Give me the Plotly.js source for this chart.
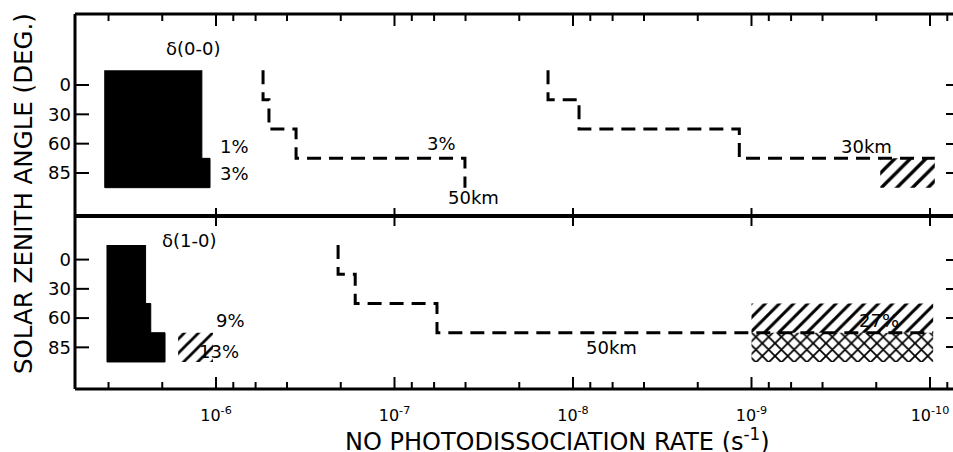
<!DOCTYPE html>
<html><head><meta charset="utf-8">
<script src="https://cdn.plot.ly/plotly-3.0.1.min.js"></script>
<style>html,body{margin:0;padding:0;background:#fff;overflow:hidden}</style>
</head><body><div id="chart" style="width:953px;height:452px"></div>
<script>
// ---- data ----
const zenithAngles = [0, 30, 60, 85];
const xTickVals = [1e-6, 1e-7, 1e-8, 1e-9, 1e-10];
const xTickText = ['10<sup>-6</sup>', '10<sup>-7</sup>', '10<sup>-8</sup>', '10<sup>-9</sup>', '10<sup>-10</sup>'];
const minorMultipliers = [2, 4, 6, 8];
const minorDecades = [1e-6, 1e-7, 1e-8, 1e-9, 1e-10, 1e-11];

// delta(0-0) band
const d00UpperLeft = [4.2e-6, 4.2e-6, 4.2e-6, 4.2e-6];
const d00UpperRight = [1.2e-6, 1.2e-6, 1.2e-6, 1.08e-6];
const d00Rate50km = [5.45e-7, 5.05e-7, 3.56e-7, 4.03e-8];
const d00Rate30km = [1.38e-8, 9.25e-9, 1.17e-9];
const d00Range30km85 = [1.9e-10, 9.4e-11];

// delta(1-0) band
const d10UpperLeft = [4.08e-6, 4.08e-6, 4.08e-6, 4.08e-6];
const d10UpperRight = [2.48e-6, 2.48e-6, 2.32e-6, 1.93e-6];
const d10Range85Upper = [1.63e-6, 1.04e-6];
const d10Rate50km = [2.07e-7, 1.66e-7, 5.78e-8];
const d10Range60Lower = [1.0e-9, 9.6e-11];
const d10Range85Lower = [1.0e-9, 9.6e-11];

// ---- helpers ----
function stepLine(vals, endVal) {
  const xs = [], ys = [];
  vals.forEach((v, i) => { xs.push(v, v); ys.push(i - 0.5, i + 0.5); });
  if (endVal !== undefined) { xs.push(endVal); ys.push(vals.length - 0.5); }
  return {xs, ys};
}
function bandPoly(left, right) {
  const xs = [], ys = [];
  right.forEach((v, i) => { xs.push(v, v); ys.push(i - 0.5, i + 0.5); });
  for (let i = left.length - 1; i >= 0; i--) { xs.push(left[i], left[i]); ys.push(i + 0.5, i - 0.5); }
  return {xs, ys};
}
function boxPoly(range, row) {
  return {xs: [range[0], range[1], range[1], range[0], range[0]],
          ys: [row - 0.5, row - 0.5, row + 0.5, row + 0.5, row - 0.5]};
}
const minorTicks = [];
minorDecades.forEach(d => minorMultipliers.forEach(m => minorTicks.push(m * d)));

const FONT = '"DejaVu Sans", "Liberation Sans", sans-serif';
const dashStyle = '14px,8px';
const traces = [];
function addFill(p, xa, ya, name) {
  traces.push({type: 'scatter', mode: 'lines', x: p.xs, y: p.ys, xaxis: xa, yaxis: ya,
    fill: 'toself', fillcolor: 'black', line: {color: 'black', width: 1}, name, hoverinfo: 'skip'});
}
function addHatch(p, xa, ya, shape, size, sol, name) {
  traces.push({type: 'scatter', mode: 'lines', x: p.xs, y: p.ys, xaxis: xa, yaxis: ya,
    fill: 'toself', fillcolor: 'rgba(0,0,0,0)', line: {color: 'rgba(0,0,0,0)', width: 0},
    fillpattern: {shape, size, solidity: sol, fgcolor: 'black', bgcolor: 'rgba(0,0,0,0)'}, name, hoverinfo: 'skip'});
}
function addStep(p, xa, ya, name) {
  traces.push({type: 'scatter', mode: 'lines', x: p.xs, y: p.ys, xaxis: xa, yaxis: ya,
    line: {color: 'black', width: 3, dash: dashStyle}, name});
}
function addCarrier(xa, ya) {
  traces.push({type: 'scatter', mode: 'lines', x: [], y: [], xaxis: xa, yaxis: ya,
    showlegend: false, hoverinfo: 'skip'});
}

// top panel: x2/y2 ; bottom panel: x/y
addFill(bandPoly(d00UpperLeft, d00UpperRight), 'x2', 'y2', 'δ(0-0) upper');
addStep(stepLine(d00Rate50km), 'x2', 'y2', 'δ(0-0) 50km');
addStep(stepLine(d00Rate30km, d00Range30km85[1]), 'x2', 'y2', 'δ(0-0) 30km');
addHatch(boxPoly(d00Range30km85, 3), 'x2', 'y2', '/', 11, 0.3, 'δ(0-0) 30km 85°');

addFill(bandPoly(d10UpperLeft, d10UpperRight), 'x', 'y', 'δ(1-0) upper');
addHatch(boxPoly(d10Range85Upper, 3), 'x', 'y', '/', 10, 0.28, 'δ(1-0) 85° range');
addHatch(boxPoly(d10Range60Lower, 2), 'x', 'y', '/', 10, 0.3, 'δ(1-0) 60° lower');
addHatch(boxPoly(d10Range85Lower, 3), 'x', 'y', 'x', 9, 0.35, 'δ(1-0) 85° lower');
addStep(stepLine(d10Rate50km, d10Range85Lower[1]), 'x', 'y', 'δ(1-0) 50km');

addCarrier('x', 'y5');
addCarrier('x2', 'y6');

const XR = [-5.2101, -10.1289];
const MID = 0.4613;
const PLOT_W = 878, PLOT_H = 375;
const YR1 = [4.424, -1.49];   // bottom panel
const YR2 = [4.466, -2.42];   // top panel
const yTickVals = zenithAngles.map((_, i) => i);
const yTickText = zenithAngles.map(String);
const baseX = {type: 'log', range: XR, autorange: false, showgrid: false, zeroline: false, showline: false,
  tickmode: 'array', tickvals: xTickVals, ticktext: xTickText, tickcolor: 'black', tickwidth: 2};
const baseY = {showgrid: false, zeroline: false, autorange: false, showline: false, tickmode: 'array',
  tickvals: yTickVals, ticktext: yTickText, tickcolor: 'black', tickwidth: 2};
function yTickAxis(over, range, pos, side, len) {
  return Object.assign({}, baseY, {overlaying: over, anchor: 'free', position: pos, side: side, range: range,
    ticks: 'outside', ticklen: len, showticklabels: false});
}

// frame lines and tick marks (layout decorations)
const frame = {type: 'line', xref: 'paper', yref: 'paper', layer: 'above', line: {color: 'black', width: 3}};
const tickLine = {type: 'line', layer: 'above', line: {color: 'black', width: 2}};
const xFrac = v => (Math.log10(v) - XR[0]) / (XR[1] - XR[0]);
const shapes = [
  Object.assign({}, frame, {x0: 0, x1: 1, y0: 1, y1: 1}),
  Object.assign({}, frame, {x0: 0, x1: 1, y0: MID, y1: MID, line: {color: 'black', width: 4}}),
  Object.assign({}, frame, {x0: 0, x1: 1, y0: 0, y1: 0}),
  Object.assign({}, frame, {x0: 0, x1: 0, y0: 0, y1: 1})
];
xTickVals.forEach(v => {
  const f = xFrac(v);
  shapes.push(Object.assign({}, tickLine, {xref: 'paper', yref: 'paper', x0: f, x1: f, y0: 1, y1: 1 - 12 / PLOT_H}));
  shapes.push(Object.assign({}, tickLine, {xref: 'paper', yref: 'paper', x0: f, x1: f, y0: 0, y1: 12 / PLOT_H}));
  shapes.push(Object.assign({}, tickLine, {xref: 'paper', yref: 'paper', x0: f, x1: f,
    y0: MID - 10 / PLOT_H, y1: MID + 8 / PLOT_H}));
});
minorTicks.forEach(v => {
  const f = xFrac(v);
  if (f <= 0.005 || f >= 0.995) return;
  shapes.push(Object.assign({}, tickLine, {xref: 'paper', yref: 'paper', x0: f, x1: f, y0: 1, y1: 1 - 7 / PLOT_H}));
  shapes.push(Object.assign({}, tickLine, {xref: 'paper', yref: 'paper', x0: f, x1: f, y0: 0, y1: 7 / PLOT_H}));
});
['y', 'y2'].forEach(yr => yTickVals.forEach(i => {
  shapes.push(Object.assign({}, tickLine, {xref: 'paper', yref: yr, x0: 0, x1: 14 / PLOT_W, y0: i, y1: i}));
}));

const layout = {
  width: 953, height: 452,
  margin: {l: 75, r: 0, t: 14, b: 63},
  paper_bgcolor: 'white', plot_bgcolor: 'rgba(0,0,0,0)',
  showlegend: false,
  font: {family: FONT, color: 'black', size: 18},
  xaxis: Object.assign({}, baseX, {anchor: 'y', domain: [0, 1], side: 'bottom', ticks: '',
    tickfont: {size: 16, family: FONT}, ticklabelstandoff: 15}),
  xaxis2: Object.assign({}, baseX, {anchor: 'y2', domain: [0, 1], side: 'top', ticks: '', showticklabels: false}),
  yaxis: Object.assign({}, baseY, {anchor: 'x', domain: [0, MID], range: YR1, ticks: '',
    tickfont: {size: 18, family: FONT}, ticklabelstandoff: 3}),
  yaxis2: Object.assign({}, baseY, {anchor: 'x2', domain: [MID, 1], range: YR2, ticks: '',
    tickfont: {size: 18, family: FONT}, ticklabelstandoff: 3}),
  yaxis5: yTickAxis('y', YR1, 1, 'left', 7),
  yaxis6: yTickAxis('y2', YR2, 1, 'left', 7),
  shapes: shapes,
  annotations: [
    {text: 'δ(0-0)', xref: 'x2', yref: 'y2', x: -5.871, y: -1.26},
    {text: '1%', xref: 'x2', yref: 'y2', x: -6.106, y: 2.08},
    {text: '3%', xref: 'x2', yref: 'y2', x: -6.106, y: 3.0},
    {text: '3%', xref: 'x2', yref: 'y2', x: -7.266, y: 2.01},
    {text: '50km', xref: 'x2', yref: 'y2', x: -7.445, y: 3.85},
    {text: '30km', xref: 'x2', yref: 'y2', x: -9.647, y: 2.08},
    {text: 'δ(1-0)', xref: 'x', yref: 'y', x: -5.849, y: -0.67},
    {text: '9%', xref: 'x', yref: 'y', x: -6.084, y: 2.065},
    {text: '13%', xref: 'x', yref: 'y', x: -6.017, y: 3.125},
    {text: '50km', xref: 'x', yref: 'y', x: -8.218, y: 2.99},
    {text: '27%', xref: 'x', yref: 'y', x: -9.714, y: 2.065},
    {text: 'SOLAR ZENITH ANGLE (DEG.)', xref: 'paper', yref: 'paper', x: -0.0592, y: 0.52,
      textangle: -90, font: {size: 24.5}},
    {text: 'NO PHOTODISSOCIATION RATE (s<sup>-1</sup>)', xref: 'paper', yref: 'paper', x: 0.550, y: -0.136,
      font: {size: 24}}
  ].map(a => Object.assign({showarrow: false, xanchor: 'center', yanchor: 'middle', font: {size: 18}}, a))
};

Plotly.newPlot('chart', traces, layout, {staticPlot: true, displayModeBar: false});
</script>
</body></html>
